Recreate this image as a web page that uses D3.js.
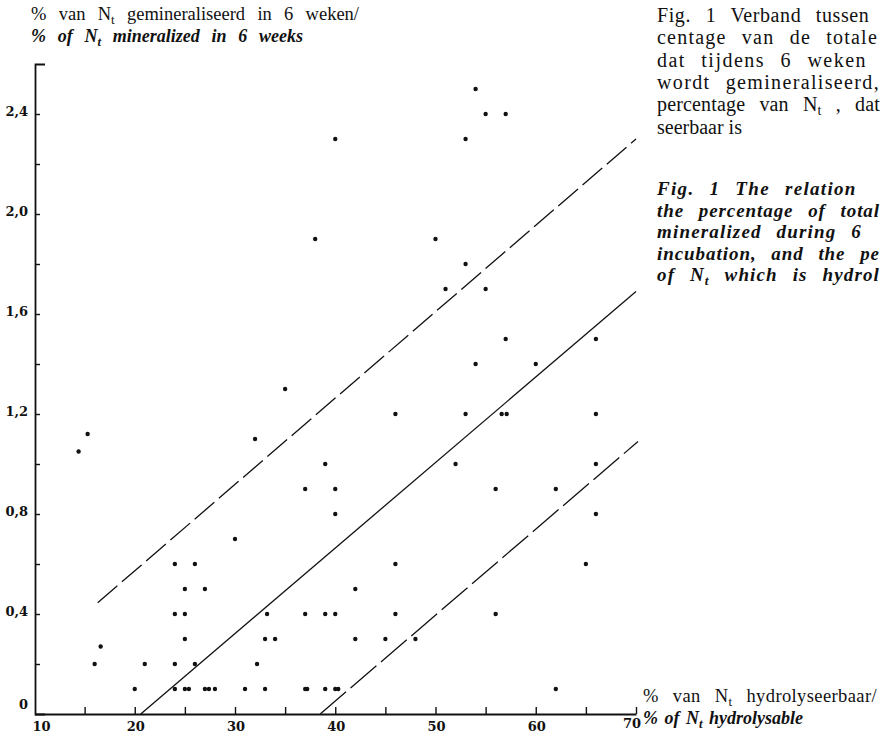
<!DOCTYPE html>
<html>
<head>
<meta charset="utf-8">
<script src="https://cdn.jsdelivr.net/npm/d3@7"></script>
<style>
	body { margin: 0; background: #fff; }
	svg { display: block; }
	text { fill: #111; }
</style>
</head>
<body>
<svg id="svg" width="880" height="736"></svg>
<script>
// % of N_t hydrolysable (x) and % of N_t mineralized in 6 weeks (y), one entry per sample
var hydrolysable = [
	20, 24, 25, 25.4, 27, 27.4, 28, 31, 33, 37, 37.2, 39, 40, 40.3, 62,
	16, 21, 24, 26, 32.2, 16.6,
	25, 33, 34, 42, 45, 48,
	24, 25, 33.2, 37, 39, 40, 46, 56,
	25, 27, 42,
	24, 26, 46, 65,
	30, 40, 66,
	37, 40, 56, 62,
	39, 52, 66,
	32, 15.3, 14.4,
	46, 53, 56.6, 57.1, 66,
	35, 54, 60, 57, 66,
	51, 55, 53, 38, 50,
	40, 53, 55, 57, 54
];
var mineralized = [
	0.1, 0.1, 0.1, 0.1, 0.1, 0.1, 0.1, 0.1, 0.1, 0.1, 0.1, 0.1, 0.1, 0.1, 0.1,
	0.2, 0.2, 0.2, 0.2, 0.2, 0.27,
	0.3, 0.3, 0.3, 0.3, 0.3, 0.3,
	0.4, 0.4, 0.4, 0.4, 0.4, 0.4, 0.4, 0.4,
	0.5, 0.5, 0.5,
	0.6, 0.6, 0.6, 0.6,
	0.7, 0.8, 0.8,
	0.9, 0.9, 0.9, 0.9,
	1.0, 1.0, 1.0,
	1.1, 1.12, 1.05,
	1.2, 1.2, 1.2, 1.2, 1.2,
	1.3, 1.4, 1.4, 1.5, 1.5,
	1.7, 1.7, 1.8, 1.9, 1.9,
	2.3, 2.3, 2.4, 2.4, 2.5
];

// fitted line and the two band limits: [x, y] start and end
var upperLimit = [[16.3, 0.445], [70, 2.30]];
var regression = [[20.6, 0], [70, 1.69]];
var lowerLimit = [[38.5, 0], [70.2, 1.09]];

var xTicks = [15, 20, 25, 30, 35, 40, 45, 50, 55, 60, 65, 70];
var xLabels = [10, 20, 30, 40, 50, 60, 70];
var yTicks = [0.2, 0.4, 0.6, 0.8, 1.0, 1.2, 1.4, 1.6, 1.8, 2.0, 2.2, 2.4];
var yLabels = [0, 0.4, 0.8, 1.2, 1.6, 2.0, 2.4];

var captionNl = [
	['Fig. 1  Verband tussen'],
	['centage van de totale'],
	['dat tijdens 6 weken'],
	['wordt gemineraliseerd,'],
	['percentage van N', 't', ' , dat'],
	['seerbaar is']
];
var captionEn = [
	['Fig. 1  The relation'],
	['the percentage of total'],
	['mineralized during 6'],
	['incubation, and the pe'],
	['of N', 't', ' which is hydrol']
];


var svg = d3.select('#svg'),
	x = d3.scaleLinear().domain([10, 70]).range([34.5, 636]),
	y = d3.scaleLinear().domain([0, 2.6]).range([714, 64]),
	serif = '"Liberation Serif", "DejaVu Serif", serif',
	numFont = '"DejaVu Serif", serif';

// text with an optional subscript as the 2nd part, stretched to width by word spacing
var addText = function(px, py, parts, opts){
	var t = svg.append('text')
		.attr('x', px)
		.attr('y', py)
		.style('font-family', serif)
		.style('font-size', opts.size + 'px')
		.style('font-style', opts.italic ? 'italic' : 'normal')
		.style('font-weight', opts.bold ? 'bold' : 'normal');
	parts.forEach(function(p, i){
		var span = t.append('tspan').text(p);
		if (i === 1){
			span.attr('dy', 4).style('font-size', (opts.size * 0.7) + 'px');
		} else if (i === 2){
			span.attr('dy', -4);
		}
	});
	if (opts.width){
		var natural = t.node().getComputedTextLength(),
			spaces = parts.join('').split(' ').length - 1,
			extra = opts.width - natural;
		if (extra > 0 && spaces > 0){
			var ws = Math.min(extra / spaces, 9);
			t.style('word-spacing', ws + 'px');
			var rest = extra - ws * spaces;
			if (rest > 1){
				t.style('letter-spacing', (rest / parts.join('').length) + 'px');
			}
		}
	}
	return t;
};


// axes
var yAxis = svg.append('g')
	.attr('transform', 'translate(35,0)')
	.call(d3.axisLeft(y).tickValues(yTicks).tickSize(-5).tickSizeOuter(-10).tickFormat(''));

var xAxis = svg.append('g')
	.attr('transform', 'translate(0,714)')
	.call(d3.axisBottom(x).tickValues(xTicks).tickSize(-7).tickSizeOuter(0).tickFormat(''));

[yAxis, xAxis].forEach(function(g){
	g.select('.domain').style('stroke', '#111').style('stroke-width', 1.8);
	g.selectAll('.tick line').style('stroke', '#111').style('stroke-width', 1.4);
});

svg.selectAll('text.ylab')
	.data(yLabels)
	.enter()
	.append('text')
	.attr('class', 'ylab')
	.attr('x', 28)
	.attr('y', function(d){ return d === 0 ? y(d) - 5 : y(d) + 2; })
	.attr('text-anchor', 'end')
	.style('font-family', numFont)
	.style('font-weight', 'bold')
	.style('font-size', '13px')
	.text(function(d){ return d === 0 ? '0' : d3.format('.1f')(d).replace('.', ','); });

svg.selectAll('text.xlab')
	.data(xLabels)
	.enter()
	.append('text')
	.attr('class', 'xlab')
	.attr('x', function(d){
		if (d === 10) return x(d) + 7;
		if (d === 70) return x(d) - 4;
		return x(d) + 1;
	})
	.attr('y', function(d){ return d === 70 ? 728 : 731; })
	.attr('text-anchor', 'middle')
	.style('font-family', numFont)
	.style('font-weight', 'bold')
	.style('font-size', '13px')
	.text(function(d){ return d; });


// band lines
var lineGen = d3.line()
	.x(function(d){ return x(d[0]); })
	.y(function(d){ return y(d[1]); });

[
	{ pts: upperLimit, dash: '26,6' },
	{ pts: regression, dash: null },
	{ pts: lowerLimit, dash: '34,6' }
].forEach(function(l){
	svg.append('path')
		.attr('d', lineGen(l.pts))
		.style('fill', 'none')
		.style('stroke', '#111')
		.style('stroke-width', 1.3)
		.style('stroke-dasharray', l.dash);
});


// samples
svg.append('g')
	.selectAll('circle')
	.data(d3.range(hydrolysable.length))
	.enter()
	.append('circle')
	.attr('cx', function(i){ return x(hydrolysable[i]); })
	.attr('cy', function(i){ return y(mineralized[i]); })
	.attr('r', 2.2)
	.style('fill', '#111');


// axis titles
addText(31, 20, ['% van N', 't', ' gemineraliseerd in 6 weken/'], { size: 18.5, width: 328 });
addText(31, 42, ['% of N', 't', ' mineralized in 6 weeks'], { size: 18, italic: true, bold: true, width: 272 });
addText(643, 702, ['% van N', 't', ' hydrolyseerbaar/'], { size: 18.5, width: 234 });
addText(643, 724, ['% of N', 't', ' hydrolysable'], { size: 18, italic: true, bold: true, width: 160 });


// caption
var nlWidths = [222, 221, 210, 223, 223, 0];
captionNl.forEach(function(parts, i){
	addText(657, 22 + i * 22.3, parts, { size: 20, width: nlWidths[i] });
});
var enWidths = [210, 223, 205, 223, 223];
captionEn.forEach(function(parts, i){
	addText(657, 195 + i * 21.5, parts, { size: 19, italic: true, bold: true, width: enWidths[i] });
});
</script>
</body>
</html>
